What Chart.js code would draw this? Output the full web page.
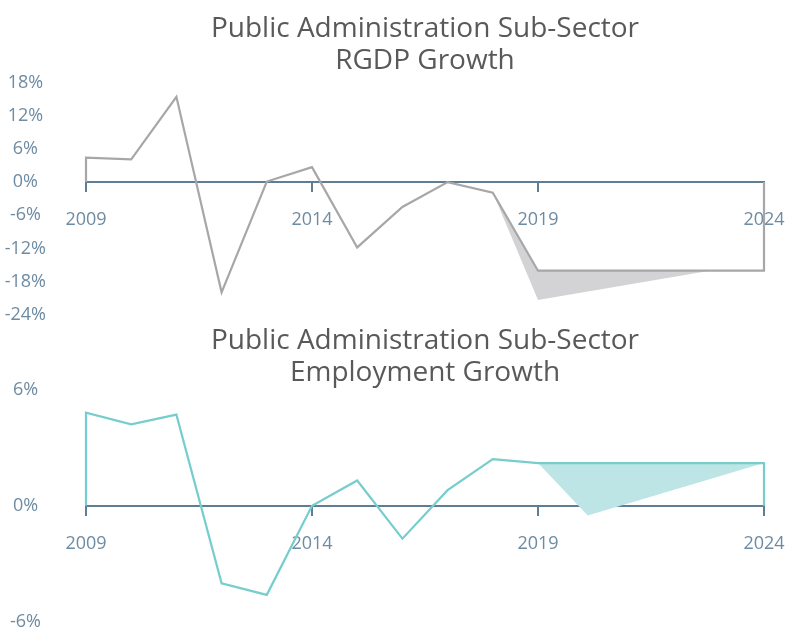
<!DOCTYPE html>
<html lang="en">
<head>
    <meta charset="UTF-8">
    <title>Public Administration Sub-Sector Growth</title>
    <style>
        body {
            margin: 0;
            background: #fff;
            overflow: hidden;
        }

        .panel {
            position: absolute;
            left: 0;
        }

        #rgdp-panel { top: 0; }
        #emp-panel { top: 312px; }
    </style>
</head>
<body>
    <div class="panel" id="rgdp-panel"><canvas id="rgdpChart" width="790" height="326"></canvas></div>
    <div class="panel" id="emp-panel"><canvas id="empChart" width="790" height="321"></canvas></div>

<script src="https://cdn.jsdelivr.net/npm/chart.js"></script>
<script>
    // Years on the horizontal axis
    const years = [2009, 2010, 2011, 2012, 2013, 2014, 2015, 2016, 2017, 2018, 2019, 2020, 2021, 2022, 2023, 2024];
    const yearTicks = [2009, 2014, 2019, 2024];

    // RGDP growth (%), actuals then flat projection
    const rgdpGrowth = [4.4, 4.1, 15.4, -19.9, 0.1, 2.7, -11.8, -4.5, 0.0, -1.9, -16.0, -16.0, -16.0, -16.0, -16.0, -16.0];
    // shaded downside range under the projection
    const rgdpBandYears = [2018, 2019, 2022.8];
    const rgdpBandHigh = [-1.9, -16.0, -16.0];
    const rgdpBandLow = [-1.9, -21.3, -16.0];
    const rgdpTicks = [18, 12, 6, 0, -6, -12, -18, -24];

    // Employment growth (%)
    const empGrowth = [4.8, 4.2, 4.7, -4.0, -4.6, 0.0, 1.3, -1.7, 0.8, 2.4, 2.2, 2.2, 2.2, 2.2, 2.2, 2.2];
    const empBandYears = [2019, 2020.1, 2024];
    const empBandHigh = [2.2, 2.2, 2.2];
    const empBandLow = [2.2, -0.5, 2.2];
    const empTicks = [6, 0, -6];

    const axisColor = '#5f7e94';
    const tickColor = '#6d8ba2';
    const tickFont = { family: 'Open Sans', size: 18 };

    // series drawn as an outline closed down to zero at both ends
    function outline(xs, ys) {
        const pts = xs.map((x, i) => ({ x: x, y: ys[i] }));
        return [{ x: xs[0], y: 0 }].concat(pts, [{ x: xs[xs.length - 1], y: 0 }]);
    }

    function toPoints(xs, ys) {
        return xs.map((x, i) => ({ x: x, y: ys[i] }));
    }

    function makeChart(id, cfg) {
        return new Chart(document.getElementById(id), {
            type: 'line',
            data: {
                datasets: [{
                    data: outline(years, cfg.values),
                    borderColor: cfg.line,
                    borderWidth: 2.2,
                    pointRadius: 0,
                    fill: false,
                    clip: false
                }, {
                    data: toPoints(cfg.bandYears, cfg.bandHigh),
                    borderWidth: 0,
                    borderColor: 'rgba(0,0,0,0)',
                    pointRadius: 0,
                    fill: false
                }, {
                    data: toPoints(cfg.bandYears, cfg.bandLow),
                    borderWidth: 0,
                    borderColor: 'rgba(0,0,0,0)',
                    backgroundColor: cfg.band,
                    pointRadius: 0,
                    fill: '-1'
                }]
            },
            options: {
                responsive: false,
                animation: false,
                layout: { padding: { left: 0, right: 26, top: 0, bottom: 0 } },
                plugins: {
                    legend: { display: false },
                    tooltip: { enabled: false },
                    title: {
                        display: true,
                        fullSize: false,
                        text: cfg.title,
                        color: '#595959',
                        font: { family: 'Open Sans', size: 28, weight: 'normal', lineHeight: 1.15 },
                        padding: cfg.titlePad
                    }
                },
                scales: {
                    x: {
                        type: 'linear',
                        position: { y: 0 },
                        min: 2009,
                        max: 2024,
                        afterBuildTicks: s => { s.ticks = yearTicks.map(v => ({ value: v })); },
                        // the axis sits on the zero line, so it takes no room of its own
                        afterFit: s => { s.height = 0; s.paddingLeft = 0; s.paddingRight = 0; },
                        ticks: {
                            color: tickColor,
                            font: tickFont,
                            padding: 18,
                            maxRotation: 0,
                            callback: v => String(v)
                        },
                        grid: {
                            drawOnChartArea: false,
                            drawTicks: true,
                            tickLength: 9,
                            color: axisColor,
                            lineWidth: 2
                        },
                        border: { display: true, color: axisColor, width: 2 }
                    },
                    y: {
                        min: cfg.ticks[cfg.ticks.length - 1],
                        max: cfg.ticks[0],
                        afterBuildTicks: s => { s.ticks = cfg.ticks.map(v => ({ value: v })); },
                        // fixed gutter; label padding only pushes labels left, not the plot down
                        afterFit: s => { s.width = 86; s.paddingTop = 11; s.paddingBottom = 11; },
                        ticks: {
                            color: tickColor,
                            font: tickFont,
                            crossAlign: 'center',
                            padding: cfg.yPad,
                            callback: v => v + '%'
                        },
                        grid: { display: false, drawTicks: false },
                        border: { display: false }
                    }
                }
            }
        });
    }

    makeChart('rgdpChart', {
        title: ['Public Administration Sub-Sector', 'RGDP Growth'],
        titlePad: { top: 13, bottom: 5 },
        values: rgdpGrowth,
        bandYears: rgdpBandYears,
        bandHigh: rgdpBandHigh,
        bandLow: rgdpBandLow,
        ticks: rgdpTicks,
        yPad: 40,
        line: '#a7a7aa',
        band: '#d3d3d5'
    });

    makeChart('empChart', {
        title: ['Public Administration Sub-Sector', 'Employment Growth'],
        titlePad: { top: 13, bottom: 0 },
        values: empGrowth,
        bandYears: empBandYears,
        bandHigh: empBandHigh,
        bandLow: empBandLow,
        ticks: empTicks,
        yPad: 45,
        line: '#76cdcd',
        band: '#bde5e6'
    });
</script>
</body>
</html>
